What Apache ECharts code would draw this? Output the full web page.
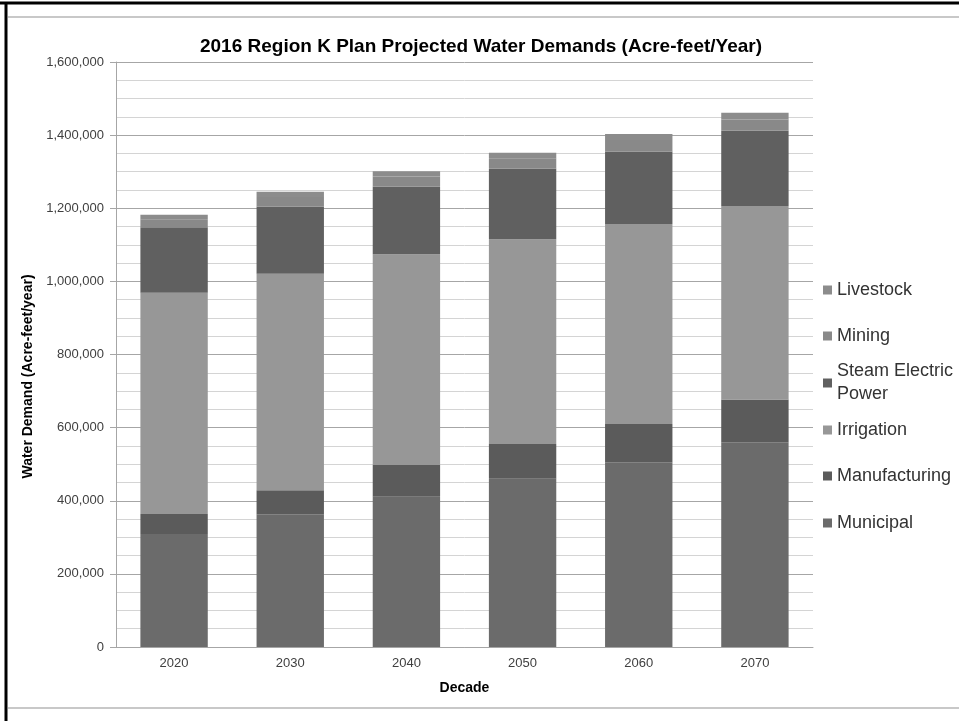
<!DOCTYPE html>
<html>
<head>
<meta charset="utf-8">
<script src="https://cdn.jsdelivr.net/npm/echarts@6/dist/echarts.min.js"></script>
<style>
  html, body { margin: 0; padding: 0; background: #fff; }
  #chart { width: 959px; height: 721px; }
</style>
</head>
<body>
<div id="chart"></div>
<script>
// decades on the x axis
var decades = ['2020', '2030', '2040', '2050', '2060', '2070'];

// water demand by use (acre-feet/year)
var municipal     = [309000, 363000, 411000, 460000, 505000, 560000];
var manufacturing = [55000, 66000, 87000, 95000, 105000, 117000];
var irrigation    = [605000, 592000, 576000, 560000, 547000, 529000];
var steamElectric = [179000, 183000, 185000, 193000, 198000, 206000];
var mining        = [22000, 27000, 28000, 29000, 32000, 31000];
var livestock     = [12000, 14000, 14000, 15000, 16000, 18000];

var yTicks = [0, 200000, 400000, 600000, 800000, 1000000, 1200000, 1400000, 1600000];

var font = 'Liberation Sans, Arial, sans-serif';

function bar(name, data, color) {
  return {
    name: name,
    type: 'bar',
    stack: 'total',
    barCategoryGap: '42%',
    itemStyle: { color: color },
    data: data
  };
}

// one legend per entry so the spacing can follow the original
function legendItem(name, top, extra) {
  var l = {
    data: [name],
    left: 823,
    top: top,
    padding: 0,
    itemWidth: 9,
    itemHeight: 9,
    icon: 'rect',
    textStyle: { fontFamily: font, fontSize: 18, color: '#333', lineHeight: 20 }
  };
  if (extra) {
    l.formatter = extra.formatter;
    l.textStyle = Object.assign({}, l.textStyle, extra.textStyle);
  }
  return l;
}

var chart = echarts.init(document.getElementById('chart'));
var option = {
  animation: false,
  backgroundColor: '#fff',
  title: {
    text: '2016 Region K Plan Projected Water Demands (Acre-feet/Year)',
    left: 476,
    textAlign: 'center',
    top: 32,
    textStyle: { fontFamily: font, fontSize: 19, fontWeight: 'bold', color: '#000' }
  },
  graphic: [
    { type: 'line', shape: { x1: 0, y1: 3, x2: 959, y2: 3 }, style: { stroke: '#000', lineWidth: 3 } },
    { type: 'line', shape: { x1: 6, y1: 2, x2: 6, y2: 721 }, style: { stroke: '#000', lineWidth: 3 } },
    { type: 'line', shape: { x1: 8, y1: 17, x2: 959, y2: 17 }, style: { stroke: '#c8c8c8', lineWidth: 2 } },
    { type: 'line', shape: { x1: 8, y1: 708, x2: 959, y2: 708 }, style: { stroke: '#c8c8c8', lineWidth: 2 } }
  ],
  legend: [
    legendItem('Livestock', 280),
    legendItem('Mining', 326),
    legendItem('Steam Electric Power', 348.5, {
      formatter: 'Steam Electric\nPower',
      textStyle: { lineHeight: 23, padding: [23, 0, 0, 0] }
    }),
    legendItem('Irrigation', 420),
    legendItem('Manufacturing', 466),
    legendItem('Municipal', 513)
  ],
  grid: { left: 116, right: 146, top: 62, bottom: 74 },
  xAxis: {
    type: 'category',
    data: decades,
    name: 'Decade',
    nameLocation: 'middle',
    nameGap: 34,
    nameTextStyle: { fontFamily: font, fontSize: 14, fontWeight: 'bold', color: '#000' },
    axisLine: { lineStyle: { color: '#a6a6a6' } },
    axisTick: { show: false },
    axisLabel: { fontFamily: font, fontSize: 13, color: '#404040', margin: 10 }
  },
  yAxis: {
    type: 'value',
    min: 0,
    max: yTicks[yTicks.length - 1],
    interval: yTicks[1] - yTicks[0],
    name: 'Water Demand (Acre-feet/year)',
    nameLocation: 'middle',
    nameGap: 80,
    nameTextStyle: { fontFamily: font, fontSize: 14, fontWeight: 'bold', color: '#000', padding: [0, 44, 0, 0] },
    axisLine: { show: true, lineStyle: { color: '#a6a6a6' } },
    axisTick: { show: true, length: 6, lineStyle: { color: '#a6a6a6' } },
    axisLabel: {
      fontFamily: font, fontSize: 13, color: '#404040', margin: 12,
      formatter: function (v) { return echarts.format.addCommas(v); }
    },
    splitLine: { lineStyle: { color: '#a6a6a6' } },
    minorTick: { show: false, splitNumber: 4 },
    minorSplitLine: { show: true, lineStyle: { color: '#d4d4d4' } }
  },
  series: [
    bar('Municipal', municipal, '#6b6b6b'),
    bar('Manufacturing', manufacturing, '#5b5b5b'),
    bar('Irrigation', irrigation, '#979797'),
    bar('Steam Electric Power', steamElectric, '#606060'),
    bar('Mining', mining, '#898989'),
    bar('Livestock', livestock, '#8c8c8c')
  ]
};
chart.setOption(option);
</script>
</body>
</html>
